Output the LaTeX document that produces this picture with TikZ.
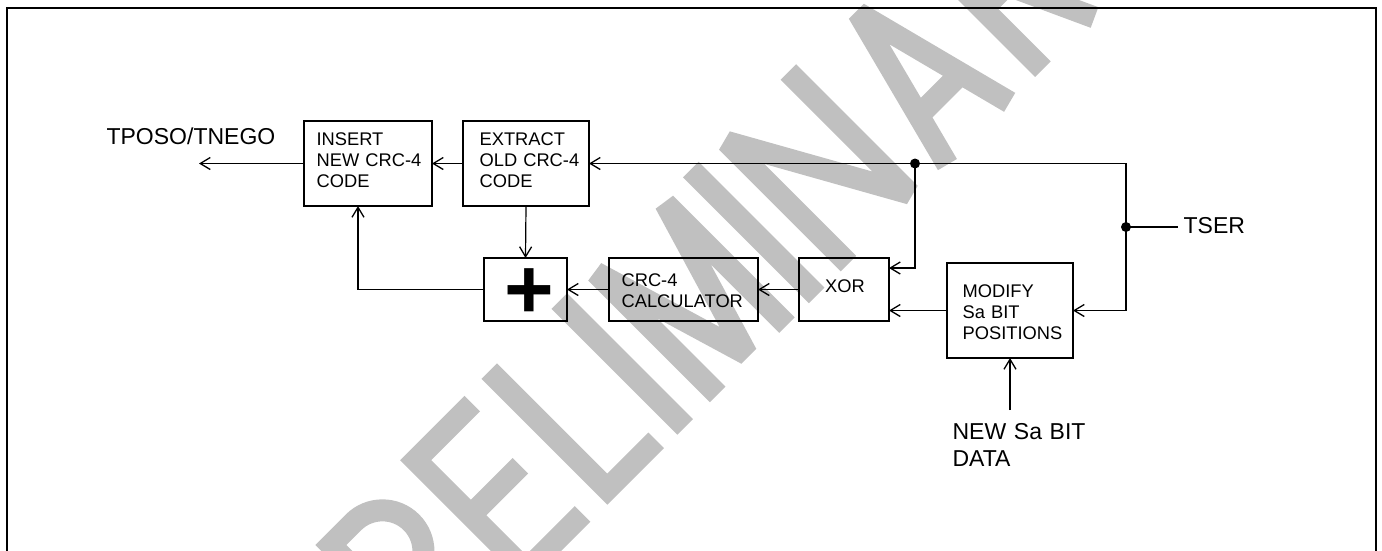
\documentclass[tikz,border=0pt]{standalone}
\usepackage{fontspec}
\setmainfont{Liberation Sans}
\usetikzlibrary{arrows.meta,calc}
\definecolor{wm}{RGB}{192,192,192}
\begin{document}
\begin{tikzpicture}[x=1pt,y=-1pt,line width=1.2pt,
  box/.style={draw,rectangle,inner sep=0pt,outer sep=0pt,anchor=north west},
  arr/.style={-{Straight Barb[length=10pt,width=12pt,line width=1.3pt]}},
  boxtxt/.style={inner sep=0pt,anchor=base west,align=left,text width=140pt,font=\fontsize{18.3}{21}\selectfont},
  lbl/.style={inner sep=0pt,anchor=base west,align=left,text width=220pt,font=\fontsize{23}{27}\selectfont},
  wmstroke/.style={draw=wm,line width=22pt,line cap=butt,line join=miter,miter limit=1.5}]
\useasboundingbox (0,0) rectangle (1382,550);
\clip (0,0) rectangle (1382,550);
% watermark PRELIMINARY
\begin{scope}[shift={(526pt,-586pt)},x=1pt,y=1pt,rotate=45,every path/.style={wmstroke}]
  % P
  \draw (-229,0) -- (-229,167) -- (-200,167) arc[start angle=90,end angle=-90,radius=40] -- (-229,87);
  % R
  \draw (-109,0) -- (-109,167) -- (-77,167) arc[start angle=90,end angle=-90,radius=41] -- (-109,85);
  \draw (-75,85) -- (-36,0);
  % E
  \draw (91,167) -- (11,167) -- (11,11) -- (91,11);
  \draw (11,89) -- (81,89);
  % L
  \draw (126,178) -- (126,11) -- (195,11);
  % I
  \draw (225,0) -- (225,178);
  % M
  \draw (271,0) -- (271,172) -- (320,8) -- (369,172) -- (369,0);
  % I
  \draw (411,0) -- (411,178);
  % N
  \draw (456,0) -- (456,172) -- (549,6) -- (549,178);
  % A
  \draw (596,0) -- (640,170) -- (684,0);
  \draw (610,55) -- (670,55);
  % R
  \draw (731,0) -- (731,167) -- (763,167) arc[start angle=90,end angle=-90,radius=41] -- (731,85);
  \draw (765,85) -- (804,0);
  % Y
  \draw (851,178) -- (890,90) -- (929,178);
  \draw (890,90) -- (890,0);
\end{scope}
% frame
\draw[line width=2.2pt] (7,560) -- (7,8) -- (1376,8) -- (1376,560);
% boxes
\node[box,minimum width=128pt,minimum height=85pt] (ins) at (304,121) {};
\node[box,minimum width=126pt,minimum height=85pt] (ext) at (463,121) {};
\node[box,minimum width=83pt,minimum height=63pt] (plus) at (484,258) {};
\node[box,minimum width=149pt,minimum height=63pt] (crc) at (609,258) {};
\node[box,minimum width=90pt,minimum height=63pt] (xor) at (799,258) {};
\node[box,minimum width=126pt,minimum height=95pt] (mod) at (947,263) {};
% box texts
\node[boxtxt] (instxt) at (316,145) {INSERT\\NEW CRC-4\\CODE};
\node[boxtxt] (exttxt) at (479,145) {EXTRACT\\OLD CRC-4\\CODE};
\node[boxtxt] (crctxt) at (621,286) {CRC-4\\CALCULATOR};
\node[boxtxt] (modtxt) at (962,297) {MODIFY\\Sa BIT\\POSITIONS};
\node[inner sep=0pt,anchor=base,font=\fontsize{18.3}{21}\selectfont] (xortxt) at (845,292) {XOR};
\node[inner sep=0pt,anchor=base,font=\fontsize{85}{85}\selectfont\bfseries] (plustxt) at (529.5,318) {+};
% labels
\node[lbl] (outlbl) at (106,144) {TPOSO/TNEGO};
\node[lbl] (tserlbl) at (1183,233) {TSER};
\node[lbl] (newlbl) at (952,439) {NEW Sa BIT\\DATA};
% coordinates
\coordinate (out) at (199,163.5);
\coordinate (dotA) at (915,163.5);
\coordinate (dotB) at (1126,227);
\coordinate (tserend) at (1178,227);
\coordinate (xin) at (889,268);
\coordinate (bend) at (358,289.5);
\coordinate (newsa) at (1010,410);
% connectors
\draw[arr] (ins.west) -- (out);
\draw[arr] (ext.west) -- (ins.east);
\draw[arr] (dotB) -- (dotB |- ext.east) -- (ext.east);
\draw[arr] (dotB) -- (dotB |- mod.east) -- (mod.east);
\draw (dotB) -- (tserend);
\draw[arr] (dotA) -- (dotA |- xin) -- (xin);
\draw[arr] (mod.west) -- (mod.west -| xor.east);
\draw[arr] (xor.west) -- (crc.east);
\draw[arr] (crc.west) -- (plus.east);
\draw[arr] (plus.west) -- (bend) -- (bend |- ins.south);
\draw[arr] (ext.south) -- (plus.north);
\draw[arr] (newsa) -- (mod.south);
\fill (dotA) circle[radius=5];
\fill (dotB) circle[radius=5];
\end{tikzpicture}
\end{document}
